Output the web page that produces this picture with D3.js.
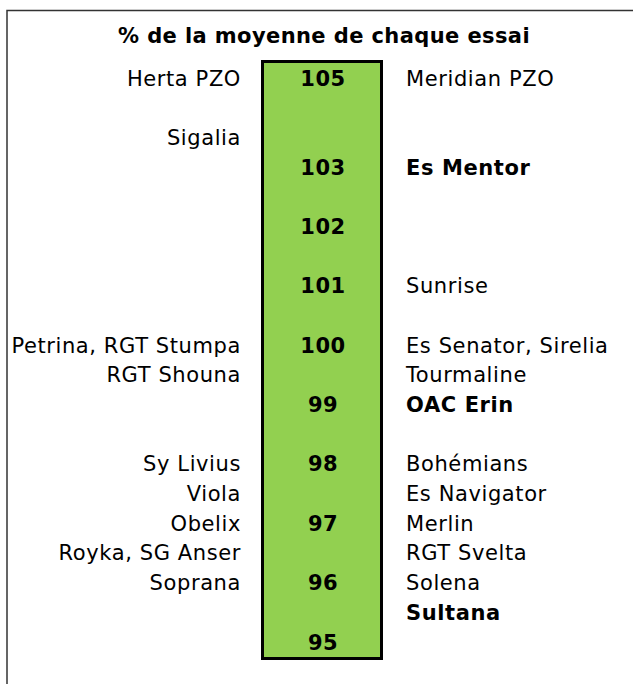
<!DOCTYPE html>
<html lang="fr">
<head>
<meta charset="UTF-8">
<title>% de la moyenne de chaque essai</title>
<style>
  body { margin: 0; background: #fff; }
  svg { display: block; }
  text { font-family: "DejaVu Sans", Verdana, sans-serif; }
</style>
</head>
<body>
<svg width="633" height="684"></svg>
<script src="https://d3js.org/d3.v7.min.js"></script>
<script>
var title = '% de la moyenne de chaque essai';

// scale ticks printed in the green bar
var ticks = [105, 103, 102, 101, 100, 99, 98, 97, 96, 95];

// varieties on the left side, with their score
var leftNames = ['Herta PZO', 'Sigalia', 'Petrina, RGT Stumpa', 'RGT Shouna', 'Sy Livius',
  'Viola', 'Obelix', 'Royka, SG Anser', 'Soprana'];
var leftScores = [105, 104, 100, 99.5, 98, 97.5, 97, 96.5, 96];

// varieties on the right side, with their score
var rightNames = ['Meridian PZO', 'Es Mentor', 'Sunrise', 'Es Senator, Sirelia', 'Tourmaline',
  'OAC Erin', 'Bohémians', 'Es Navigator', 'Merlin', 'RGT Svelta', 'Solena', 'Sultana'];
var rightScores = [105, 103, 101, 100, 99.5, 99, 98, 97.5, 97, 96.5, 96, 95.5];
var rightBold = ['Es Mentor', 'OAC Erin', 'Sultana'];

var svg = d3.select('svg');

// the sheet is not linear above 103 (104 row is squeezed)
var y = d3.scaleLinear()
  .domain([95, 103, 104, 105])
  .range([642, 167, 137.5, 78]);

// frame
svg.append('path')
  .attr('d', 'M7,684V10.5H640')
  .attr('fill', 'none')
  .attr('stroke', '#333')
  .attr('stroke-width', 1.5);

svg.append('text')
  .attr('x', 324)
  .attr('y', 43)
  .attr('text-anchor', 'middle')
  .attr('font-size', 21)
  .attr('font-weight', 'bold')
  .attr('letter-spacing', 0.4)
  .text(title);

// green bar
svg.append('rect')
  .attr('x', 262.5)
  .attr('y', 61.5)
  .attr('width', 119)
  .attr('height', 597)
  .attr('fill', '#92d050')
  .attr('stroke', '#000')
  .attr('stroke-width', 3);

svg.append('g')
  .selectAll('text')
  .data(ticks)
  .join('text')
  .attr('x', 323)
  .attr('y', d => y(d))
  .attr('dy', '0.36em')
  .attr('text-anchor', 'middle')
  .attr('font-size', 21)
  .attr('font-weight', 'bold')
  .attr('letter-spacing', 0.5)
  .text(d => d);

svg.append('g')
  .selectAll('text')
  .data(leftNames)
  .join('text')
  .attr('x', 241)
  .attr('y', (d, i) => y(leftScores[i]))
  .attr('dy', '0.36em')
  .attr('text-anchor', 'end')
  .attr('font-size', 21)
  .attr('letter-spacing', 0.6)
  .text(d => d);

svg.append('g')
  .selectAll('text')
  .data(rightNames)
  .join('text')
  .attr('x', 406)
  .attr('y', (d, i) => y(rightScores[i]))
  .attr('dy', '0.36em')
  .attr('font-size', 21)
  .attr('letter-spacing', 0.6)
  .attr('font-weight', d => rightBold.includes(d) ? 'bold' : 'normal')
  .text(d => d);
</script>
</body>
</html>
